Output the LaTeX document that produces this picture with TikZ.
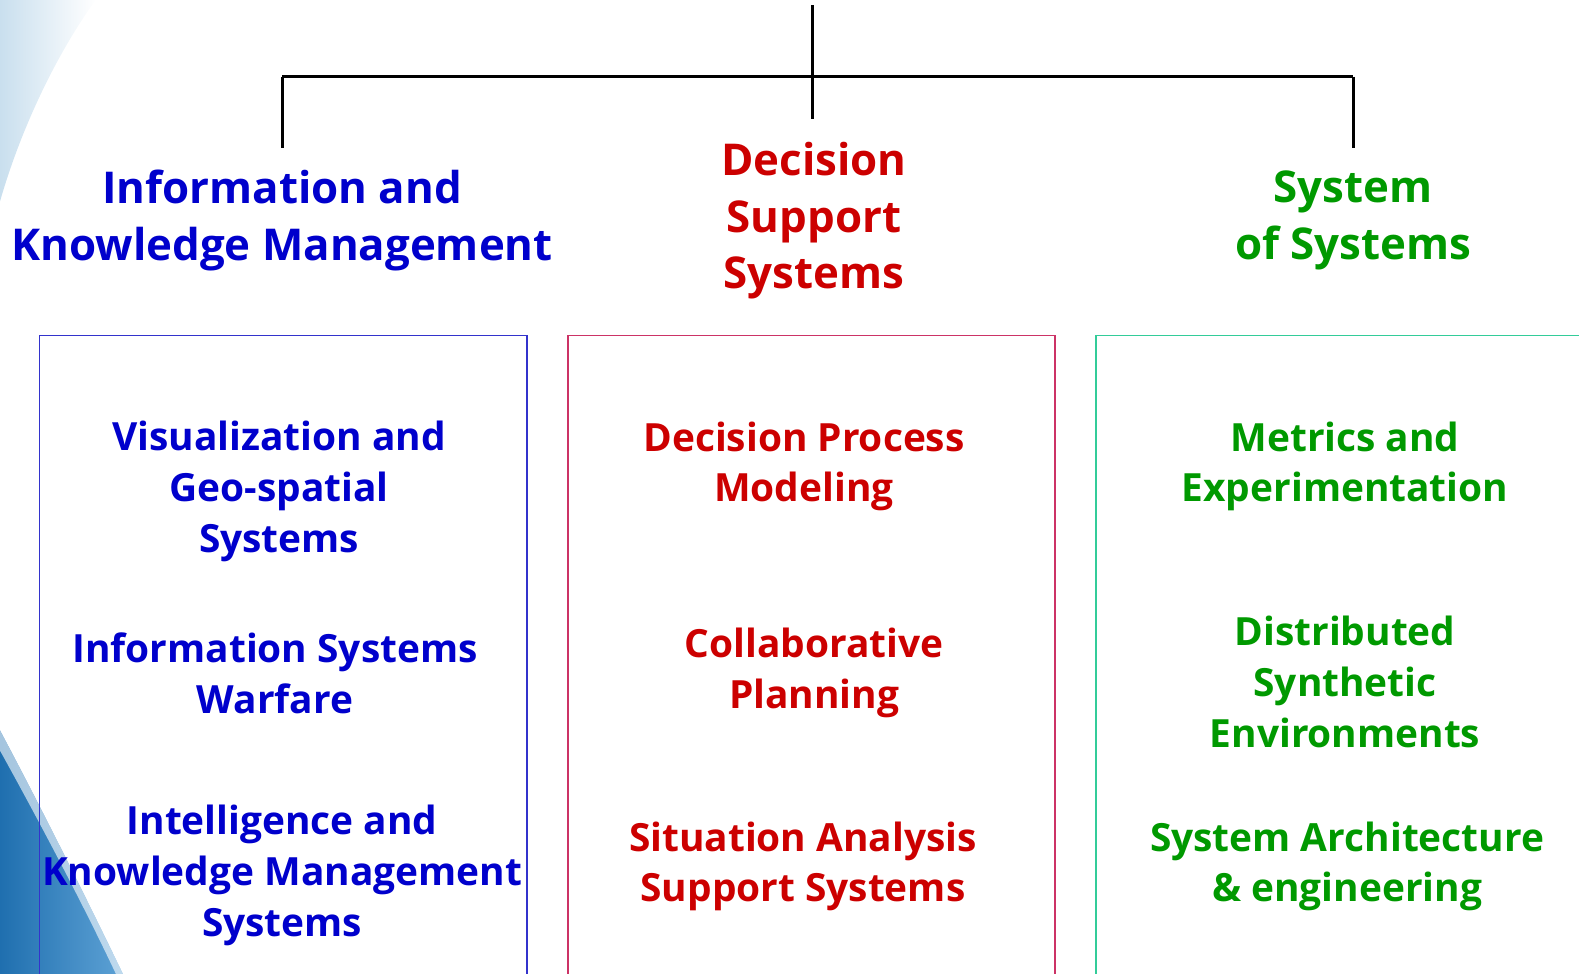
\documentclass[tikz,border=0pt]{standalone}
\usepackage{fontspec}
\setmainfont{Open Sans}
\definecolor{tblue}{HTML}{0000CC}
\definecolor{tred}{HTML}{CC0000}
\definecolor{tgreen}{HTML}{009900}
\definecolor{bblue}{HTML}{3333CC}
\definecolor{bred}{HTML}{CC3366}
\definecolor{bgreen}{HTML}{33CC99}
\definecolor{swdark}{HTML}{1F6FAF}
\definecolor{swlight}{HTML}{5FA3D6}
\definecolor{swpale}{HTML}{C9DFEE}
\begin{document}
\begin{tikzpicture}[x=0.50375bp,y=-0.50375bp,
  head/.style={align=center,font=\fontsize{22}{28.5}\selectfont\bfseries},
  item/.style={align=center,font=\fontsize{19.5}{25.5}\selectfont\bfseries},
  conn/.style={draw=black,line width=1.5bp},
  colbox/.style={line width=0.75bp}]
\useasboundingbox (0,0) rectangle (1567.24,965.76);
\begin{scope}
\clip (0,0) rectangle (1567.24,965.76);
% background swooshes
\shade[left color=swpale, right color=white] (0,0) -- (95,0) .. controls (55,55) and (20,130) .. (0,200) -- cycle;
\shade[left color=swdark, right color=swlight] (0,725) .. controls (40,800) and (90,900) .. (125,973) -- (0,973) -- cycle;
\fill[white,opacity=0.6] (0,725) .. controls (40,800) and (90,900) .. (125,973) -- (118,973) .. controls (84,900) and (36,810) .. (0,745) -- cycle;
% boxes
\draw[colbox,bblue] (39,990) -- (39,333) -- (523,333) -- (523,990);
\draw[colbox,bred] (564,990) -- (564,333) -- (1047,333) -- (1047,990);
\draw[colbox,bgreen] (1088,990) -- (1088,333) -- (1600,333);
\end{scope}
% tree connectors
\coordinate (top) at (806,5);
\coordinate (mid) at (806,118);
\coordinate (hl) at (280,76);
\coordinate (hr) at (1343,76);
\coordinate (dl) at (280,147);
\coordinate (dr) at (1343,147);
\draw[conn] (top) -- (mid);
\draw[conn] (hl) -- (hr);
\draw[conn] (hl) -- (dl);
\draw[conn] (hr) -- (dr);
% headers
\node[head,text=tblue] (h1) at (280,219) {Information and\\Knowledge Management};
\node[head,text=tred] (h2) at (808,219) {Decision\\Support\\Systems};
\node[head,text=tgreen] (h3) at (1343,219) {System\\of Systems};
% left items
\node[item,text=tblue] (l1) at (277,488) {Visualization and\\Geo-spatial\\Systems};
\node[item,text=tblue] (l2) at (273,668) {Information Systems\\Warfare};
\node[item,text=tblue] (l3) at (280,869) {Intelligence and\\Knowledge Management\\Systems};
% middle items
\node[item,text=tred] (m1) at (798,463) {Decision Process\\Modeling};
\node[item,text=tred] (m2) at (808,668) {Collaborative\\Planning};
\node[item,text=tred] (m3) at (797,860) {Situation Analysis\\Support Systems};
% right items
\node[item,text=tgreen] (r1) at (1335,463) {Metrics and\\Experimentation};
\node[item,text=tgreen] (r2) at (1335,677) {Distributed\\Synthetic\\Environments};
\node[item,text=tgreen] (r3) at (1337,860) {System Architecture\\\& engineering};
\end{tikzpicture}
\end{document}
